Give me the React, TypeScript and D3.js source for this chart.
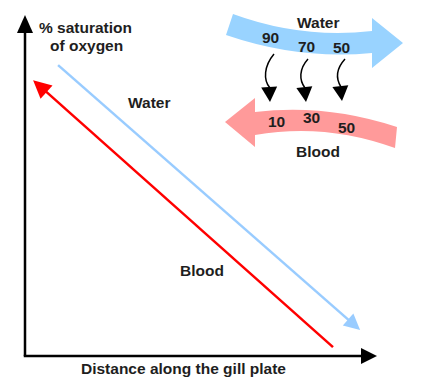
import React from "react";
import * as d3 from "d3";

// Data (in chart units: distance 0..1 along plate, saturation 0..100 %)
const waterLine = [
  { d: 0.094, s: 85.3 },
  { d: 0.952, s: 7.6 },
];
const bloodLine = [
  { d: 0.875, s: 2.6 },
  { d: 0.023, s: 80.9 },
];
const waterValues = ["90", "70", "50"];
const bloodValues = ["10", "30", "50"];
const axisTitles = ["% saturation", "of oxygen"];
const xTitle = "Distance along the gill plate";

const W = 436;
const H = 383;
const FONT = "'Liberation Sans', Arial, sans-serif";
const TEXT = "#1e1e1e";

function arrowHead(tipX: number, tipY: number, fromX: number, fromY: number, len: number, half: number) {
  const ang = Math.atan2(tipY - fromY, tipX - fromX);
  const bx = tipX - len * Math.cos(ang);
  const by = tipY - len * Math.sin(ang);
  const px = -Math.sin(ang) * half;
  const py = Math.cos(ang) * half;
  return `M${tipX},${tipY}L${bx + px},${by + py}L${bx - px},${by - py}Z`;
}

export default function App() {
  const x = d3.scaleLinear().domain([0, 1]).range([25, 377]);
  const y = d3.scaleLinear().domain([0, 100]).range([356, 15]);

  // blue band (water flow)
  const bp = d3.path();
  bp.moveTo(233, 14);
  bp.quadraticCurveTo(301, 39, 372, 31);
  bp.lineTo(372, 18);
  bp.lineTo(403, 43);
  bp.lineTo(372, 68);
  bp.lineTo(372, 53);
  bp.quadraticCurveTo(299, 60, 226, 35);
  bp.closePath();

  // red band (blood flow)
  const rp = d3.path();
  rp.moveTo(225, 122);
  rp.lineTo(255, 98);
  rp.lineTo(255, 112);
  rp.quadraticCurveTo(326, 103.5, 397, 127);
  rp.lineTo(395, 148);
  rp.quadraticCurveTo(325, 122.5, 255, 135);
  rp.lineTo(255, 147);
  rp.closePath();

  const lineGen = d3
    .line<{ d: number; s: number }>()
    .x((p) => x(p.d))
    .y((p) => y(p.s));

  const wEnd = waterLine[1];
  const wStart = waterLine[0];
  const bEnd = bloodLine[1];
  const bStart = bloodLine[0];

  // shorten lines so they don't poke through heads
  const shorten = (a: { d: number; s: number }, b: { d: number; s: number }, px: number) => {
    const ax = x(a.d), ay = y(a.s), bx = x(b.d), by = y(b.s);
    const L = Math.hypot(bx - ax, by - ay);
    const t = (L - px) / L;
    return `M${ax},${ay}L${ax + (bx - ax) * t},${ay + (by - ay) * t}`;
  };

  const curved = [
    { sx: 274, sy: 54, c1x: 264, c1y: 66, c2x: 263, c2y: 80, ex: 270, ey: 88, tipX: 270, tipY: 102 },
    { sx: 308, sy: 59, c1x: 299, c1y: 69, c2x: 299, c2y: 80, ex: 305, ey: 88, tipX: 306, tipY: 102 },
    { sx: 345, sy: 59, c1x: 336, c1y: 69, c2x: 336, c2y: 79, ex: 341, ey: 87, tipX: 342, tipY: 101 },
  ];

  const waterNumPos = [
    [262, 43],
    [298, 52],
    [333, 53],
  ];
  const bloodNumPos = [
    [268, 127],
    [303, 123],
    [338, 133],
  ];

  return (
    <svg width={W} height={H} style={{ position: "absolute", left: 0, top: 0, background: "#fff" }}>
      <rect width={W} height={H} fill="#fff" />
      {/* axes */}
      <line x1={x(0)} y1={y(0)} x2={x(0)} y2={y(100) + 14} stroke="#000" strokeWidth={2.5} />
      <path d={arrowHead(x(0), y(100), x(0), y(0), 18, 8)} fill="#000" />
      <line x1={x(0) - 1.25} y1={y(0)} x2={x(1) - 12} y2={y(0)} stroke="#000" strokeWidth={2.5} />
      <path d={arrowHead(x(1), y(0), x(0), y(0), 16, 8)} fill="#000" />

      {/* axis titles */}
      <text x={39} y={33} fontFamily={FONT} fontWeight="bold" fontSize={15.5} fill={TEXT}>
        {axisTitles[0]}
      </text>
      <text x={50} y={51} fontFamily={FONT} fontWeight="bold" fontSize={15.5} fill={TEXT}>
        {axisTitles[1]}
      </text>
      <text x={81} y={374} fontFamily={FONT} fontWeight="bold" fontSize={15.5} fill={TEXT}>
        {xTitle}
      </text>

      {/* water line */}
      <path d={shorten(wStart, wEnd, 12)} stroke="#99ccff" strokeWidth={2.5} fill="none" />
      <path d={arrowHead(x(wEnd.d), y(wEnd.s), x(wStart.d), y(wStart.s), 16, 8)} fill="#99ccff" />
      {/* blood line */}
      <path d={shorten(bStart, bEnd, 14)} stroke="#ff0000" strokeWidth={2.5} fill="none" />
      <path d={arrowHead(x(bEnd.d), y(bEnd.s), x(bStart.d), y(bStart.s), 18, 9)} fill="#ff0000" />

      <text x={128} y={108} fontFamily={FONT} fontWeight="bold" fontSize={15.5} fill={TEXT}>
        Water
      </text>
      <text x={180} y={276} fontFamily={FONT} fontWeight="bold" fontSize={15.5} fill={TEXT}>
        Blood
      </text>

      {/* inset diagram */}
      <path d={bp.toString()} fill="#99d3ff" />
      <path d={rp.toString()} fill="#ff9a9a" />
      <text x={297} y={28} fontFamily={FONT} fontWeight="bold" fontSize={15.5} fill={TEXT}>
        Water
      </text>
      <text x={296} y={157} fontFamily={FONT} fontWeight="bold" fontSize={15.5} fill={TEXT}>
        Blood
      </text>
      {waterValues.map((v, i) => (
        <text key={"w" + i} x={waterNumPos[i][0]} y={waterNumPos[i][1]} fontFamily={FONT} fontWeight="bold" fontSize={15.5} fill={TEXT}>
          {v}
        </text>
      ))}
      {bloodValues.map((v, i) => (
        <text key={"b" + i} x={bloodNumPos[i][0]} y={bloodNumPos[i][1]} fontFamily={FONT} fontWeight="bold" fontSize={15.5} fill={TEXT}>
          {v}
        </text>
      ))}
      {curved.map((c, i) => (
        <g key={"c" + i}>
          <path
            d={`M${c.sx},${c.sy}C${c.c1x},${c.c1y} ${c.c2x},${c.c2y} ${c.ex},${c.ey}`}
            stroke="#000"
            strokeWidth={1.5}
            fill="none"
          />
          <path d={arrowHead(c.tipX, c.tipY, c.ex - 1, c.ey - 4, 15, 8)} fill="#000" />
        </g>
      ))}
    </svg>
  );
}
